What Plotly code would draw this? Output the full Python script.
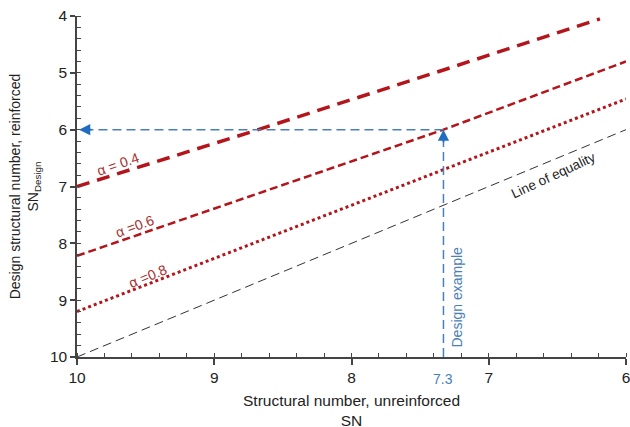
import plotly.graph_objects as go

# Data
sn_equality = [10, 6]
sndesign_equality = [10, 6]

sn_a04 = [10, 8.68, 7.33, 6.19]
sndesign_a04 = [7.0, 6.0, 4.95, 4.05]

sn_a06 = [10, 7.33, 6.0]
sndesign_a06 = [8.22, 6.0, 4.8]

sn_a08 = [10, 7.33, 6.0]
sndesign_a08 = [9.2, 6.7, 5.46]

design_sn = 7.33
design_sndesign = 6.0
design_label = "7.3"

x_ticks = [10, 9, 8, 7, 6]
y_ticks = [4, 5, 6, 7, 8, 9, 10]

x_title = "Structural number, unreinforced<br>SN"
y_title = "Design structural number, reinforced<br>SN<sub>Design</sub>"

RED = "#B3151B"
LABEL_RED = "#A8302F"
BLUE = "#4A80BA"
ARROW_BLUE = "#1F6CC0"
FONT = "Liberation Sans, Arial, sans-serif"

fig = go.Figure()

fig.add_trace(go.Scatter(x=sn_equality, y=sndesign_equality, mode="lines",
                         line=dict(color="#333333", width=1, dash="9px,5px"),
                         hoverinfo="skip", showlegend=False))
fig.add_trace(go.Scatter(x=sn_a08, y=sndesign_a08, mode="lines",
                         line=dict(color=RED, width=3, dash="dot"),
                         hoverinfo="skip", showlegend=False))
fig.add_trace(go.Scatter(x=sn_a06, y=sndesign_a06, mode="lines",
                         line=dict(color=RED, width=2.5, dash="8px,4px"),
                         hoverinfo="skip", showlegend=False))
fig.add_trace(go.Scatter(x=sn_a04, y=sndesign_a04, mode="lines",
                         line=dict(color=RED, width=3.5, dash="13px,8px"),
                         hoverinfo="skip", showlegend=False))

# design example dashed guides
fig.add_trace(go.Scatter(x=[design_sn, design_sn], y=[10, design_sndesign + 0.15], mode="lines",
                         line=dict(color=BLUE, width=1.5, dash="9px,5px"),
                         hoverinfo="skip", showlegend=False))
fig.add_trace(go.Scatter(x=[design_sn, 9.9], y=[design_sndesign, design_sndesign], mode="lines",
                         line=dict(color=BLUE, width=1.5, dash="9px,5px"),
                         hoverinfo="skip", showlegend=False))

annotations = [
    dict(x=design_sn, y=design_sndesign, ax=0, ay=14, xref="x", yref="y",
         showarrow=True, arrowhead=2, arrowsize=1.4, arrowwidth=1.6,
         arrowcolor=ARROW_BLUE, text=""),
    dict(x=9.985, y=design_sndesign, ax=14, ay=0, xref="x", yref="y",
         showarrow=True, arrowhead=2, arrowsize=1.4, arrowwidth=1.6,
         arrowcolor=ARROW_BLUE, text=""),
    dict(x=9.70, y=6.6, text="α = 0.4", textangle=-19, showarrow=False,
         font=dict(color=LABEL_RED, size=14, family=FONT)),
    dict(x=9.575, y=7.7, text="α =0.6", textangle=-20, showarrow=False,
         font=dict(color=LABEL_RED, size=14, family=FONT)),
    dict(x=9.48, y=8.58, text="α =0.8", textangle=-22, showarrow=False,
         font=dict(color=LABEL_RED, size=14, family=FONT)),
    dict(x=6.53, y=6.81, text="Line of equality", textangle=-25, showarrow=False,
         font=dict(color="#222222", size=13.5, family=FONT)),
    dict(x=7.23, y=8.95, text="Design example", textangle=-90, showarrow=False,
         font=dict(color=BLUE, size=14, family=FONT)),
    dict(x=design_sn, y=0, yref="paper", xref="x", yanchor="top", yshift=-12,
         text=design_label, showarrow=False,
         font=dict(color=BLUE, size=14, family=FONT)),
    # x-axis title
    dict(x=0.5, y=0, xref="paper", yref="paper", yanchor="top", yshift=-33,
         text=x_title, showarrow=False, align="center",
         font=dict(color="#222222", size=15.5, family=FONT)),
]

fig.update_layout(
    width=630, height=427,
    margin=dict(l=77, r=4, t=16, b=70),
    paper_bgcolor="white", plot_bgcolor="white",
    font=dict(family=FONT, size=14, color="#222222"),
    annotations=annotations,
)

fig.update_xaxes(
    range=[10, 6], tickvals=x_ticks, ticktext=[str(v) for v in x_ticks],
    automargin=False, ticklabeloverflow="allow",
    showgrid=False, zeroline=False, showline=True, linecolor="#444444", linewidth=1.5,
    ticks="outside", ticklen=6, tickwidth=1.5, tickcolor="#444444",
    minor=dict(dtick=0.2, ticks="inside", ticklen=4, tickwidth=1, tickcolor="#444444"),
    tickfont=dict(size=15.5, color="#222222"),
)
fig.update_yaxes(
    range=[10, 4], tickvals=y_ticks, ticktext=[str(v) for v in y_ticks],
    automargin=False, ticklabeloverflow="allow",
    showgrid=False, zeroline=False, showline=True, linecolor="#444444", linewidth=1.5,
    ticks="outside", ticklen=5, tickwidth=1.5, tickcolor="#444444",
    minor=dict(dtick=0.2, ticks="inside", ticklen=4, tickwidth=1, tickcolor="#444444"),
    tickfont=dict(size=15.5, color="#222222"),
    title=dict(text=y_title, font=dict(size=14), standoff=8),
)

# remove the default page margin so the 630x427 figure fills the window exactly
fig.write_html("out.html", config={"displayModeBar": False},
               post_script="document.body.style.margin='0';document.body.style.overflow='hidden';")
